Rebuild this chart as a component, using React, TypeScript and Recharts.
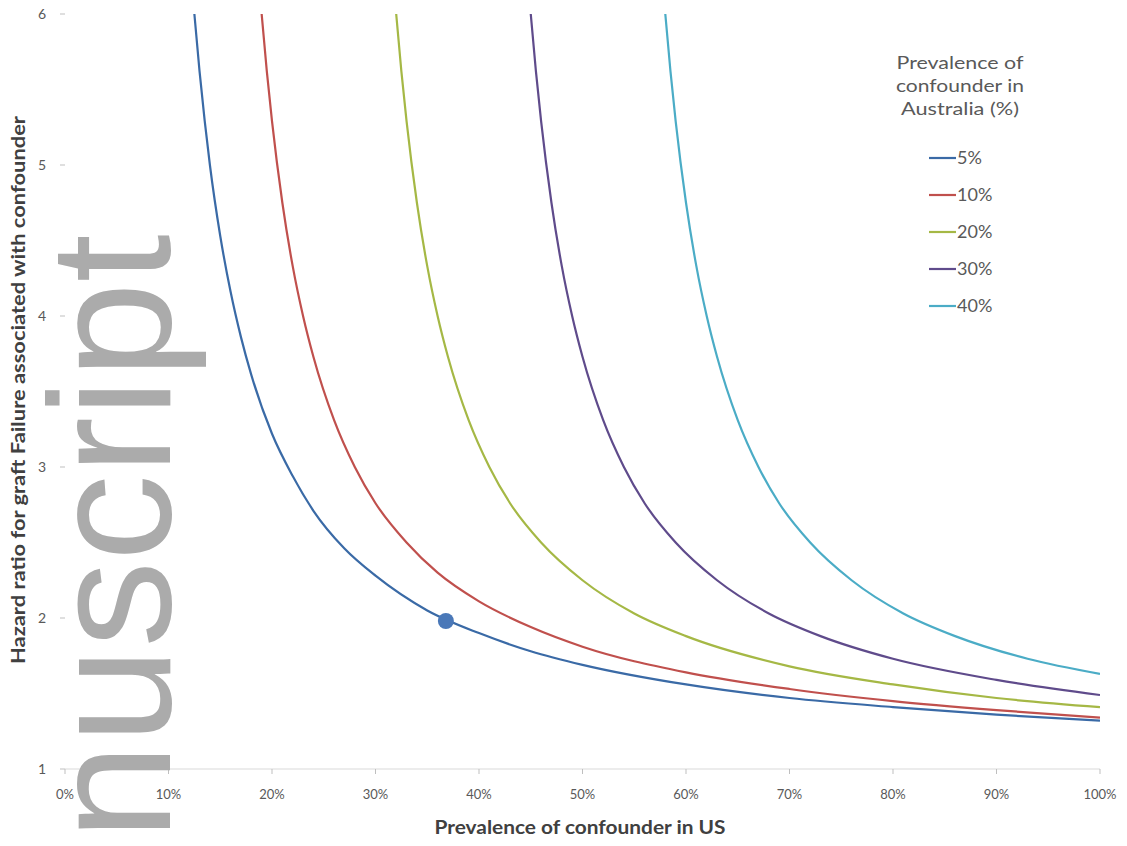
import { LineChart, Line, XAxis, YAxis, ReferenceDot } from 'recharts';

// prevalence of confounder in US (%), and hazard ratio, one pair of arrays per Australian prevalence
const us5 = [12.5, 13, 13.5, 14, 15, 16, 17, 18, 20, 22, 24, 27, 30, 35, 40, 45, 50, 60, 70, 80, 90, 100];
const hr5 = [6.0, 5.62, 5.29, 5.0, 4.53, 4.16, 3.86, 3.61, 3.22, 2.94, 2.71, 2.46, 2.28, 2.05, 1.9, 1.78, 1.69, 1.56, 1.47, 1.41, 1.36, 1.32];

const us10 = [19, 19.5, 20, 21, 22, 23, 24, 26, 28, 30, 33, 36, 40, 45, 50, 60, 70, 80, 90, 100];
const hr10 = [6.0, 5.62, 5.29, 4.75, 4.33, 4.0, 3.73, 3.31, 3.0, 2.76, 2.5, 2.3, 2.11, 1.94, 1.81, 1.64, 1.53, 1.45, 1.39, 1.34];

const us20 = [32, 32.5, 33, 34, 35, 36, 37, 39, 41, 43, 46, 50, 55, 60, 70, 80, 90, 100];
const hr20 = [6.0, 5.62, 5.29, 4.75, 4.33, 4.0, 3.73, 3.31, 3.0, 2.76, 2.5, 2.25, 2.03, 1.88, 1.68, 1.56, 1.47, 1.41];

const us30 = [45, 45.5, 46, 47, 48, 49, 50, 52, 54, 56, 59, 63, 68, 73, 80, 90, 100];
const hr30 = [6.0, 5.62, 5.29, 4.75, 4.33, 4.0, 3.73, 3.31, 3.0, 2.76, 2.5, 2.25, 2.03, 1.88, 1.73, 1.59, 1.49];

const us40 = [58, 58.5, 59, 60, 61, 62, 63, 65, 67, 69, 72, 76, 81, 86, 93, 100];
const hr40 = [6.0, 5.62, 5.29, 4.75, 4.33, 4.0, 3.73, 3.31, 3.0, 2.76, 2.5, 2.25, 2.03, 1.88, 1.73, 1.63];

const seriesNames = ['5%', '10%', '20%', '30%', '40%'];
const seriesColors = ['#3a6aa6', '#c0504d', '#a5b845', '#5f4b8b', '#4bacc6'];
const seriesX = [us5, us10, us20, us30, us40];
const seriesY = [hr5, hr10, hr20, hr30, hr40];

const xTicks = [0, 10, 20, 30, 40, 50, 60, 70, 80, 90, 100];
const yTicks = [1, 2, 3, 4, 5, 6];

// highlighted point on the 5% curve
const markX = 36.8;
const markY = 1.98;

const series = seriesNames.map((name, i) => ({
  name,
  color: seriesColors[i],
  data: seriesX[i].map((x, j) => ({ x, y: seriesY[i][j] })),
}));

const FONT = 'Lato, "Open Sans", sans-serif';

export default function App() {
  return (
    <div style={{ position: 'absolute', left: 0, top: 0, width: 1127, height: 846, background: '#fff', fontFamily: FONT }}>
      <LineChart width={1127} height={846} margin={{ top: 14, right: 27, bottom: 0, left: 0 }}>
        <XAxis
          dataKey="x"
          type="number"
          domain={[0, 100]}
          ticks={xTicks}
          tickFormatter={(v) => `${v}%`}
          height={77}
          tickSize={5}
          tickMargin={16}
          axisLine={{ stroke: '#d9d9d9' }}
          tickLine={{ stroke: '#bfbfbf' }}
          tick={{ fill: '#595959', fontSize: 13 }}
          allowDataOverflow
        />
        <YAxis
          type="number"
          domain={[1, 6]}
          ticks={yTicks}
          width={65}
          tickSize={5}
          tickMargin={14}
          axisLine={false}
          tickLine={{ stroke: '#bfbfbf' }}
          tick={{ fill: '#595959', fontSize: 14 }}
          allowDataOverflow
        />
        {series.map((s) => (
          <Line
            key={s.name}
            data={s.data}
            dataKey="y"
            name={s.name}
            type="monotone"
            stroke={s.color}
            strokeWidth={2.2}
            dot={false}
            isAnimationActive={false}
          />
        ))}
        <ReferenceDot x={markX} y={markY} r={8} fill="#4a78b8" stroke="none" />
      </LineChart>

      <svg
        width={1127}
        height={846}
        style={{ position: 'absolute', left: 0, top: 0, pointerEvents: 'none', fontFamily: FONT }}
      >
        {/* axis titles */}
        <text
          x={580}
          y={834}
          textAnchor="middle"
          fontSize={19}
          fontWeight={700}
          fill="#404040"
          textLength={291}
          lengthAdjust="spacingAndGlyphs"
        >
          Prevalence of confounder in US
        </text>
        <text
          transform="translate(25, 390) rotate(-90)"
          textAnchor="middle"
          fontSize={19}
          fontWeight={700}
          fill="#404040"
          textLength={548}
          lengthAdjust="spacingAndGlyphs"
        >
          Hazard ratio for graft Failure associated with confounder
        </text>

        {/* legend */}
        <g fill="#595959" fontSize={18}>
          <text x={960} y={69} textAnchor="middle" textLength={127} lengthAdjust="spacingAndGlyphs">Prevalence of</text>
          <text x={960} y={92} textAnchor="middle" textLength={128} lengthAdjust="spacingAndGlyphs">confounder in</text>
          <text x={960} y={115} textAnchor="middle" textLength={118} lengthAdjust="spacingAndGlyphs">Australia (%)</text>
          {series.map((s, i) => (
            <g key={s.name}>
              <line x1={929} x2={956} y1={158 + i * 37} y2={158 + i * 37} stroke={s.color} strokeWidth={2.2} />
              <text x={957} y={164 + i * 37}>{s.name}</text>
            </g>
          ))}
        </g>

        {/* watermark */}
        <text
          transform="translate(170, 840) rotate(-90)"
          fontFamily='"Liberation Sans", Arial, sans-serif'
          fontSize={173}
          fill="#ababab"
        >
          nuscript
        </text>
      </svg>
    </div>
  );
}
